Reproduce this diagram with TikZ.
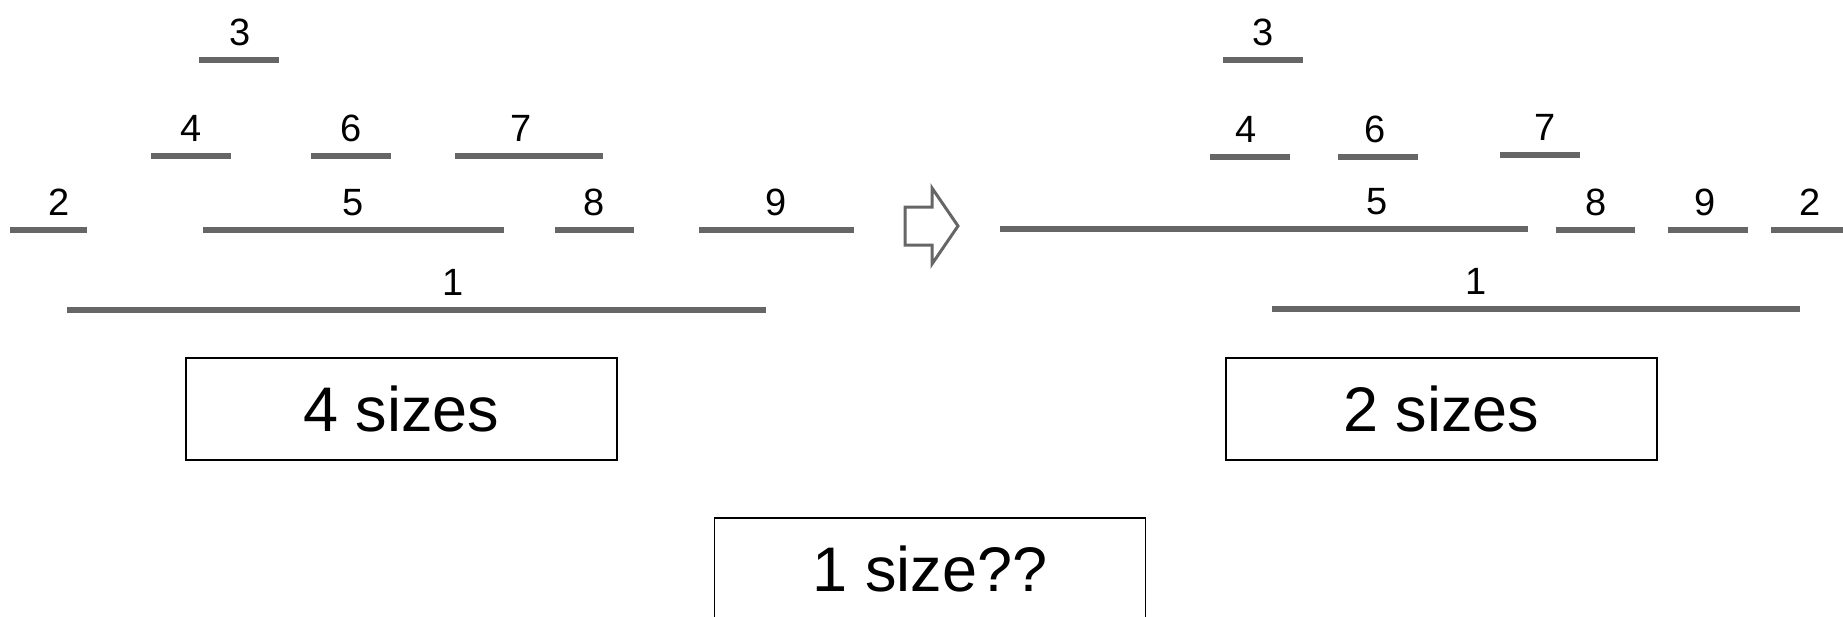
\documentclass[tikz,border=0pt]{standalone}
\usepackage{fontspec}
\setmainfont{Liberation Sans}
\definecolor{barGray}{HTML}{666666}
\tikzset{
  bar/.style={draw=barGray, line width=5.5pt, line cap=butt},
  num/.style={font=\fontsize{38}{44}\selectfont, anchor=base, inner sep=0pt},
  sizebox/.style={draw=black, line width=1.6pt, minimum width=431pt, minimum height=102pt,
    inner sep=0pt, font=\fontsize{63}{74}\selectfont},
  shiftarrow/.style={draw=barGray, line width=3pt, line join=miter}
}
% Draw one interval: #1 name, #2 left x, #3 right x, #4 y, #5 label x, #6 label
\newcommand{\interval}[6]{%
  \coordinate (#1l) at (#2,#4);
  \coordinate (#1r) at (#3,#4);
  \draw[bar] (#1l) -- (#1r);
  \node[num] (#1t) at (#5,#4-15) {#6};
}
\begin{document}
\begin{tikzpicture}[x=1pt,y=-1pt]
\useasboundingbox (0,0) rectangle (1843,616);
\clip (0,0) rectangle (1843,616);

% left arrangement
\interval{A3}{199}{279}{60}{240}{3}
\interval{A4}{151}{231}{156}{191}{4}
\interval{A6}{311}{391}{156}{351}{6}
\interval{A7}{455}{603}{156}{521}{7}
\interval{A2}{10}{87}{230}{59}{2}
\interval{A5}{203}{504}{230}{353}{5}
\interval{A8}{555}{634}{230}{594}{8}
\interval{A9}{699}{854}{230}{776}{9}
\interval{A1}{67}{766}{310}{453}{1}

% right arrangement
\interval{B3}{1223}{1303}{60}{1263}{3}
\interval{B4}{1210}{1290}{157}{1246}{4}
\interval{B6}{1338}{1418}{157}{1375}{6}
\interval{B7}{1500}{1580}{155}{1545}{7}
\interval{B5}{1000}{1528}{229}{1377}{5}
\interval{B8}{1556}{1635}{230}{1596}{8}
\interval{B9}{1668}{1748}{230}{1705}{9}
\interval{B2}{1771}{1850}{230}{1810}{2}
\interval{B1}{1272}{1800}{309}{1476}{1}

% hollow arrow between the two arrangements
\draw[shiftarrow] (905,207) -- (932,207) -- (932,188) -- (958,226)
  -- (932,264) -- (932,245) -- (905,245) -- cycle;

% captions
\node[sizebox] (four) at (401.5,409) {4 sizes};
\node[sizebox] (two) at (1441.5,409) {2 sizes};
\node[sizebox] (one) at (930,569) {1 size??};
\end{tikzpicture}
\end{document}
